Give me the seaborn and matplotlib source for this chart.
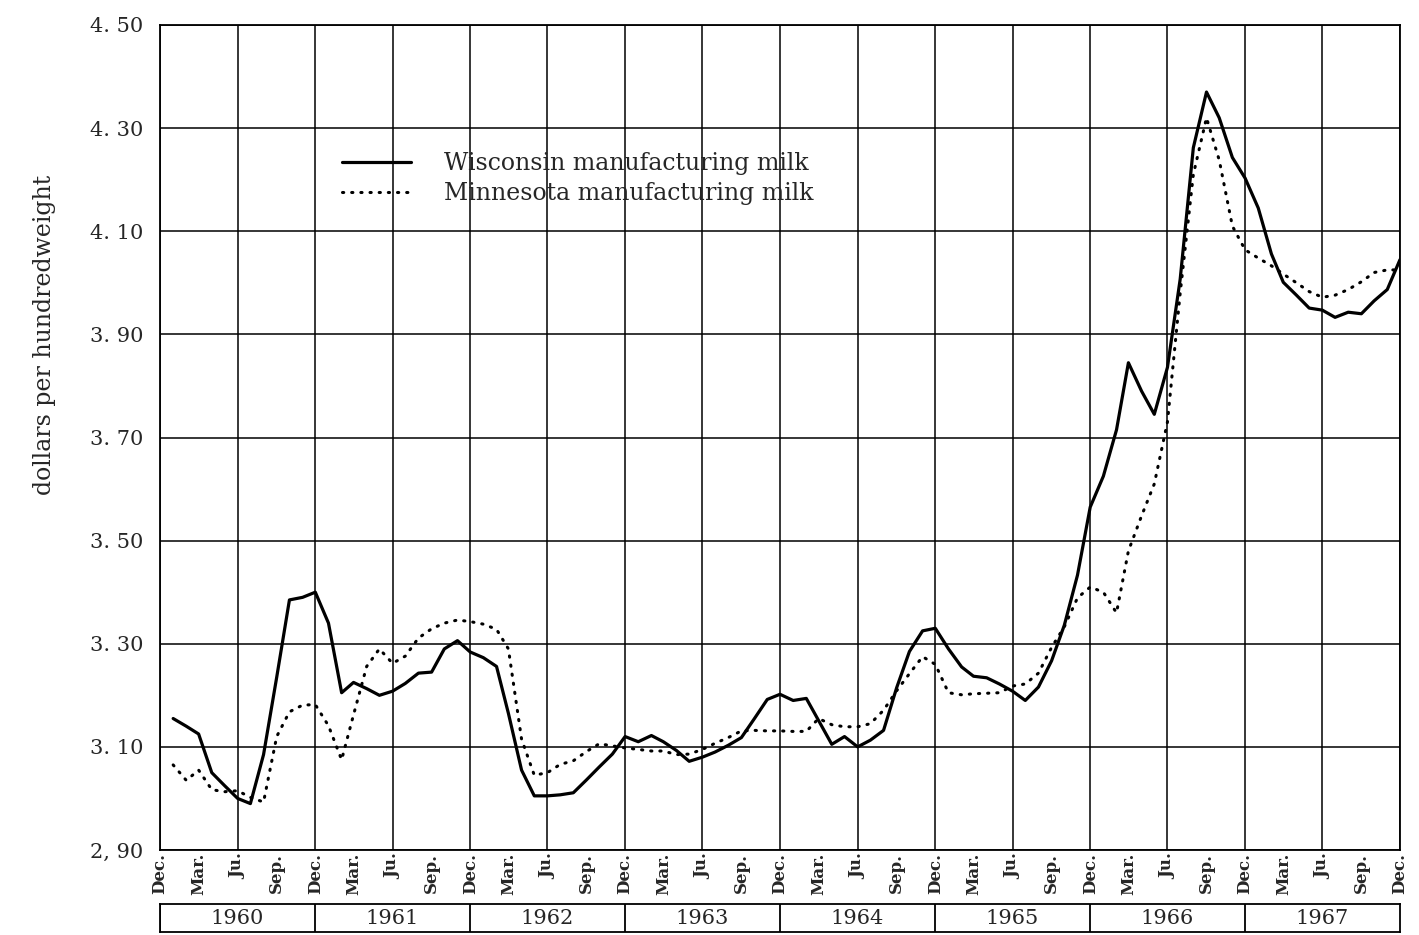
import seaborn as sns
import matplotlib.pyplot as plt
import pandas as pd
from matplotlib.lines import Line2D

# monthly prices, Jan 1960 .. Dec 1967 (dollars per cwt)
wisconsin = [
    3.155, 3.14, 3.125, 3.05, 3.025, 3.00, 2.99, 3.085, 3.235, 3.385, 3.39, 3.40,
    3.34, 3.205, 3.225, 3.213, 3.20, 3.208, 3.223, 3.243, 3.245, 3.29, 3.306, 3.284,
    3.273, 3.256, 3.165, 3.055, 3.005, 3.005, 3.007, 3.011, 3.036, 3.061, 3.086, 3.12,
    3.11, 3.122, 3.11, 3.093, 3.072, 3.08, 3.09, 3.103, 3.118, 3.154, 3.192, 3.202,
    3.19, 3.194, 3.151, 3.105, 3.12, 3.10, 3.113, 3.132, 3.215, 3.285, 3.325, 3.33,
    3.29, 3.255, 3.237, 3.234, 3.222, 3.208, 3.19, 3.216, 3.267, 3.336, 3.433, 3.565,
    3.625, 3.715, 3.845, 3.79, 3.745, 3.836, 4.007, 4.262, 4.37, 4.32, 4.243, 4.203,
    4.145, 4.056, 4.001, 3.976, 3.951, 3.947, 3.933, 3.943, 3.94, 3.965, 3.987, 4.045,
]
minnesota = [
    3.065, 3.035, 3.055, 3.017, 3.013, 3.015, 3.002, 2.993, 3.12, 3.168, 3.181, 3.182,
    3.141, 3.075, 3.162, 3.256, 3.29, 3.262, 3.276, 3.311, 3.329, 3.34, 3.346, 3.343,
    3.338, 3.328, 3.29, 3.115, 3.045, 3.05, 3.066, 3.073, 3.091, 3.106, 3.102, 3.098,
    3.095, 3.092, 3.092, 3.085, 3.086, 3.095, 3.107, 3.118, 3.131, 3.132, 3.131, 3.131,
    3.13, 3.13, 3.155, 3.143, 3.139, 3.139, 3.145, 3.171, 3.209, 3.242, 3.275, 3.26,
    3.205, 3.201, 3.203, 3.204, 3.205, 3.218, 3.222, 3.243, 3.293, 3.333, 3.389, 3.41,
    3.40, 3.36, 3.48, 3.548, 3.61, 3.73, 3.98, 4.21, 4.32, 4.238, 4.11, 4.064,
    4.048, 4.033, 4.017, 4.00, 3.983, 3.972, 3.976, 3.987, 4.002, 4.02, 4.025, 4.025,
]
months = pd.date_range("1960-01-01", periods=96, freq="MS")
years = ["1960", "1961", "1962", "1963", "1964", "1965", "1966", "1967"]
quarter_labels = ["Dec.", "Mar.", "Ju.", "Sep."]
y_ticks = [2.90, 3.10, 3.30, 3.50, 3.70, 3.90, 4.10, 4.30, 4.50]
y_labels = ["2, 90", "3. 10", "3. 30", "3. 50", "3. 70", "3. 90", "4. 10", "4. 30", "4. 50"]

df = pd.DataFrame({"month": months, "Wisconsin": wisconsin, "Minnesota": minnesota})

sns.set_style("white")
plt.rcParams["font.family"] = ["DejaVu Serif"]

W, H = 1419, 935
fig = plt.figure(figsize=(W / 100, H / 100), dpi=100)
ax = fig.add_axes([160 / W, 85 / H, 1240 / W, 825 / H])

sns.lineplot(data=df, x="month", y="Wisconsin", color="black", lw=2.3, ax=ax)
sns.lineplot(data=df, x="month", y="Minnesota", color="black", lw=2.2,
             linestyle=(0, (0.4, 2.6)), dash_capstyle="round", ax=ax)

x0, x1 = pd.Timestamp("1959-12-01"), pd.Timestamp("1967-12-01")
ax.set_xlim(x0, x1)
ax.set_ylim(2.90, 4.50)

# grid: every 0.20 horizontally, every half year vertically
for y in y_ticks:
    ax.axhline(y, color="black", lw=1.1, zorder=0)
for d in pd.date_range(x0, x1, freq="6MS"):
    ax.axvline(d, color="black", lw=1.1, zorder=0)

qticks = pd.date_range(x0, x1, freq="3MS")
ax.set_xticks(qticks)
ax.set_xticklabels([quarter_labels[i % 4] for i in range(len(qticks))],
                   rotation=90, fontsize=12, fontweight="bold")
ax.set_yticks(y_ticks)
ax.set_yticklabels(y_labels, fontsize=15)
ax.tick_params(axis="both", length=0)
ax.tick_params(axis="y", pad=12)
ax.tick_params(axis="x", pad=2)
ax.set_xlabel("")
ax.set_ylabel("")
for s in ax.spines.values():
    s.set_color("black")
    s.set_linewidth(1.3)

fig.text(45 / W, 1 - 335 / H, "dollars per hundredweight", rotation=90,
         ha="center", va="center", fontsize=17)

handles = [
    Line2D([0], [0], color="black", lw=2.3),
    Line2D([0], [0], color="black", lw=2.2, linestyle=(0, (0.4, 2.6)), dash_capstyle="round"),
]
ax.legend(handles, ["Wisconsin manufacturing milk", "Minnesota manufacturing milk"],
          loc="upper left", bbox_to_anchor=(0.13, 0.872), frameon=False,
          fontsize=17, handlelength=2.9, handletextpad=1.4, labelspacing=0.3)

# year boxes under the month labels
ax2 = fig.add_axes([160 / W, 3 / H, 1240 / W, 28 / H])
ax2.set_xlim(x0, x1)
ax2.set_ylim(0, 1)
for i, yr in enumerate(years):
    start = pd.Timestamp(f"{int(yr) - 1}-12-01")
    ax2.axvline(start, color="black", lw=1.3)
    ax2.text(start + pd.Timedelta(days=182), 0.5, yr, ha="center", va="center", fontsize=15)
ax2.set_xticks([])
ax2.set_yticks([])
for s in ax2.spines.values():
    s.set_color("black")
    s.set_linewidth(1.3)

fig.savefig("out.png", dpi=100, facecolor="white")
